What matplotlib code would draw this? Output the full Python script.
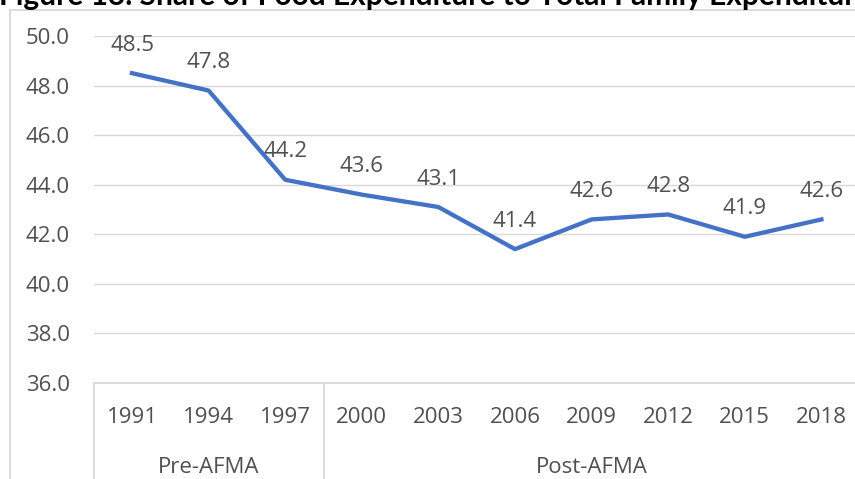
import matplotlib
matplotlib.use('Agg')
import matplotlib.pyplot as plt
from matplotlib.lines import Line2D

# data
years = ["1991", "1994", "1997", "2000", "2003", "2006", "2009", "2012", "2015", "2018"]
share = [48.5, 47.8, 44.2, 43.6, 43.1, 41.4, 42.6, 42.8, 41.9, 42.6]
groups = ["Pre-AFMA", "Post-AFMA"]
group_sizes = [3, 7]
y_ticks = [36, 38, 40, 42, 44, 46, 48, 50]
title = "Figure 13. Share of Food Expenditure to Total Family Expenditure"

plt.rcParams['font.family'] = ['Open Sans', 'DejaVu Sans']
TEXT = '#505050'
GRID = '#D9D9D9'
W, H = 855, 479

fig = plt.figure(figsize=(W / 100, H / 100), dpi=100)
ax = fig.add_axes([93.7 / W, 96 / H, 766 / W, 347 / H])

x = list(range(len(years)))
ax.plot(x, share, color='#4472C4', lw=3.1, solid_joinstyle='round', zorder=3)
for xi, v in zip(x, share):
    ax.annotate(f"{v:.1f}", (xi, v), xytext=(0, 20), textcoords='offset points',
                ha='center', va='center', fontsize=16, color=TEXT)

ax.set_xlim(-0.5, len(years) - 0.5)
ax.set_ylim(y_ticks[0], y_ticks[-1])
ax.set_yticks(y_ticks)
ax.set_yticklabels([f"{t:.1f}" for t in y_ticks])
ax.tick_params(axis='y', length=0, pad=17, labelsize=16, labelcolor=TEXT)
ax.set_xticks([])
ax.grid(axis='y', color=GRID, lw=1)
ax.set_axisbelow(True)
for s in ['top', 'right', 'left']:
    ax.spines[s].set_visible(False)
ax.spines['bottom'].set_color(GRID)
ax.spines['bottom'].set_linewidth(1.3)

# two-level category axis
trans = ax.get_xaxis_transform()
for xi, yr in zip(x, years):
    ax.annotate(yr, (xi, 0), xycoords=trans, xytext=(0, -24.5), textcoords='offset points',
                ha='center', va='center', fontsize=16, color=TEXT)
start = -0.5
bounds = [start]
for name, n in zip(groups, group_sizes):
    mid = start + n / 2
    ax.annotate(name, (mid, 0), xycoords=trans, xytext=(0, -61), textcoords='offset points',
                ha='center', va='center', fontsize=16, color=TEXT)
    start += n
    bounds.append(start)
for b in bounds:
    ax.plot([b, b], [0, -0.4], transform=trans, color=GRID, lw=1.3, clip_on=False)

# chart frame, cropped by the screenshot
fig.add_artist(Line2D([10 / W, 10 / W], [0, 1 - 10 / H], transform=fig.transFigure, color=GRID, lw=1.3))
fig.add_artist(Line2D([10 / W, 1], [1 - 10 / H, 1 - 10 / H], transform=fig.transFigure, color=GRID, lw=1.3))

fig.text(-1 / W, 1 - 5 / H, title, ha='left', va='baseline', fontsize=21.5,
         fontweight='bold', family=['Lato', 'DejaVu Sans'], color='black')

fig.savefig('out.png', dpi=100)
